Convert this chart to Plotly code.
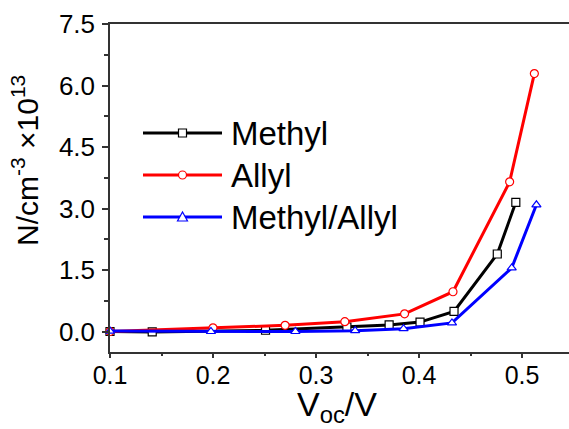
import plotly.graph_objects as go

# ---- data ----
methyl_x = [0.100, 0.141, 0.251, 0.330, 0.371, 0.401, 0.434, 0.476, 0.494]
methyl_y = [0.00, -0.01, 0.03, 0.11, 0.16, 0.23, 0.49, 1.89, 3.15]
allyl_x = [0.100, 0.200, 0.270, 0.328, 0.386, 0.433, 0.488, 0.512]
allyl_y = [0.00, 0.09, 0.15, 0.24, 0.43, 0.97, 3.65, 6.29]
ma_x = [0.100, 0.198, 0.280, 0.338, 0.385, 0.432, 0.490, 0.514]
ma_y = [0.01, 0.00, 0.00, 0.02, 0.07, 0.21, 1.55, 3.09]

series_names = ["Methyl", "Allyl", "Methyl/Allyl"]
x_ticks = [0.1, 0.2, 0.3, 0.4, 0.5]
y_ticks = [0.0, 1.5, 3.0, 4.5, 6.0, 7.5]

W, H = 569, 429
ML, MR, MT, MB = 110, 0, 24, 77
PW, PH = W - ML - MR, H - MT - MB
XR = [0.1, 0.1 + PW / 1030]

def px(x):
    return (x - ML) / PW

def py(y):
    return (H - MB - y) / PH

FONT = "Liberation Sans, Arial, sans-serif"
colors = ["#000000", "#ff0000", "#0000ff"]
symbols = ["square", "circle", "triangle-up"]

fig = go.Figure()
for (xs, ys), name, c, s in zip([(methyl_x, methyl_y), (allyl_x, allyl_y), (ma_x, ma_y)],
                                 series_names, colors, symbols):
    fig.add_trace(go.Scatter(
        x=xs, y=ys, mode="lines+markers", name=name,
        line=dict(color=c, width=3),
        marker=dict(symbol=s, size=8, color="white", line=dict(color=c, width=1.2)),
        showlegend=False, cliponaxis=False,
    ))
# invisible trace to activate the tick-only overlay x axis
fig.add_trace(go.Scatter(x=[XR[0]], y=[0], xaxis="x2", mode="markers",
                         marker=dict(opacity=0), showlegend=False, hoverinfo="skip"))

shapes = []
annotations = []
# manual legend
rows = [133, 175, 217]
lx0, lx1, lxm = 143, 222, 182.5
for i, (name, c) in enumerate(zip(series_names, colors)):
    y = rows[i]
    shapes.append(dict(type="line", xref="paper", yref="paper",
                       x0=px(lx0), x1=px(lx1), y0=py(y), y1=py(y),
                       line=dict(color=c, width=3)))
    r = 4
    if i == 0:
        shapes.append(dict(type="rect", xref="paper", yref="paper",
                           x0=px(lxm - r), x1=px(lxm + r), y0=py(y - r), y1=py(y + r),
                           fillcolor="white", line=dict(color=c, width=1.2)))
    elif i == 1:
        shapes.append(dict(type="circle", xref="paper", yref="paper",
                           x0=px(lxm - r), x1=px(lxm + r), y0=py(y - r), y1=py(y + r),
                           fillcolor="white", line=dict(color=c, width=1.2)))
    else:
        path = "M{},{} L{},{} L{},{} Z".format(
            px(lxm - 5), py(y + 4), px(lxm + 5), py(y + 4), px(lxm), py(y - 5))
        shapes.append(dict(type="path", xref="paper", yref="paper", path=path,
                           fillcolor="white", line=dict(color=c, width=1.2)))
    annotations.append(dict(xref="paper", yref="paper", x=px(229), y=py(y),
                            xanchor="left", yanchor="middle", showarrow=False,
                            text=name, font=dict(family=FONT, size=33, color="black")))

annotations.append(dict(xref="paper", yref="paper", x=px(25), y=py(161),
                        xanchor="center", yanchor="middle", showarrow=False,
                        textangle=-90,
                        text="N/cm<sup>-3</sup> ×10<sup>13</sup>",
                        font=dict(family=FONT, size=30, color="black")))
annotations.append(dict(xref="paper", yref="paper", x=px(337), y=py(406),
                        xanchor="center", yanchor="middle", showarrow=False,
                        text="V<sub>oc</sub>/V",
                        font=dict(family=FONT, size=34, color="black")))

fig.update_layout(
    width=W, height=H,
    margin=dict(l=ML, r=MR, t=MT, b=MB),
    paper_bgcolor="white", plot_bgcolor="white",
    font=dict(family=FONT, color="black"),
    shapes=shapes, annotations=annotations,
    xaxis=dict(range=XR, tickvals=x_ticks,
               ticktext=["%.1f" % v for v in x_ticks],
               showgrid=False, zeroline=False,
               showline=True, linecolor="#333", linewidth=1.5, mirror=True,
               ticks="", tickfont=dict(family=FONT, size=25, color="black")),
    xaxis2=dict(range=XR, overlaying="x", side="bottom", anchor="y",
                tickvals=x_ticks, showticklabels=False,
                showgrid=False, zeroline=False, showline=False,
                ticks="outside", ticklen=5, tickwidth=1.5, tickcolor="#333",
                minor=dict(dtick=0.05, tick0=0.1, ticks="outside", ticklen=3,
                           tickwidth=1.5, tickcolor="#333", showgrid=False)),
    yaxis=dict(range=[-0.5, 7.5], tickvals=y_ticks,
               ticktext=["%.1f" % v for v in y_ticks],
               showgrid=False, zeroline=False,
               showline=True, linecolor="#333", linewidth=1.5,
               ticks="outside", ticklen=6, tickwidth=1.5, tickcolor="#333",
               ticklabelstandoff=2,
               tickfont=dict(family=FONT, size=26, color="black"),
               minor=dict(dtick=0.75, tick0=0, ticks="outside", ticklen=4,
                          tickwidth=1.5, tickcolor="#333", showgrid=False)),
)

fig.write_html("out.html")
